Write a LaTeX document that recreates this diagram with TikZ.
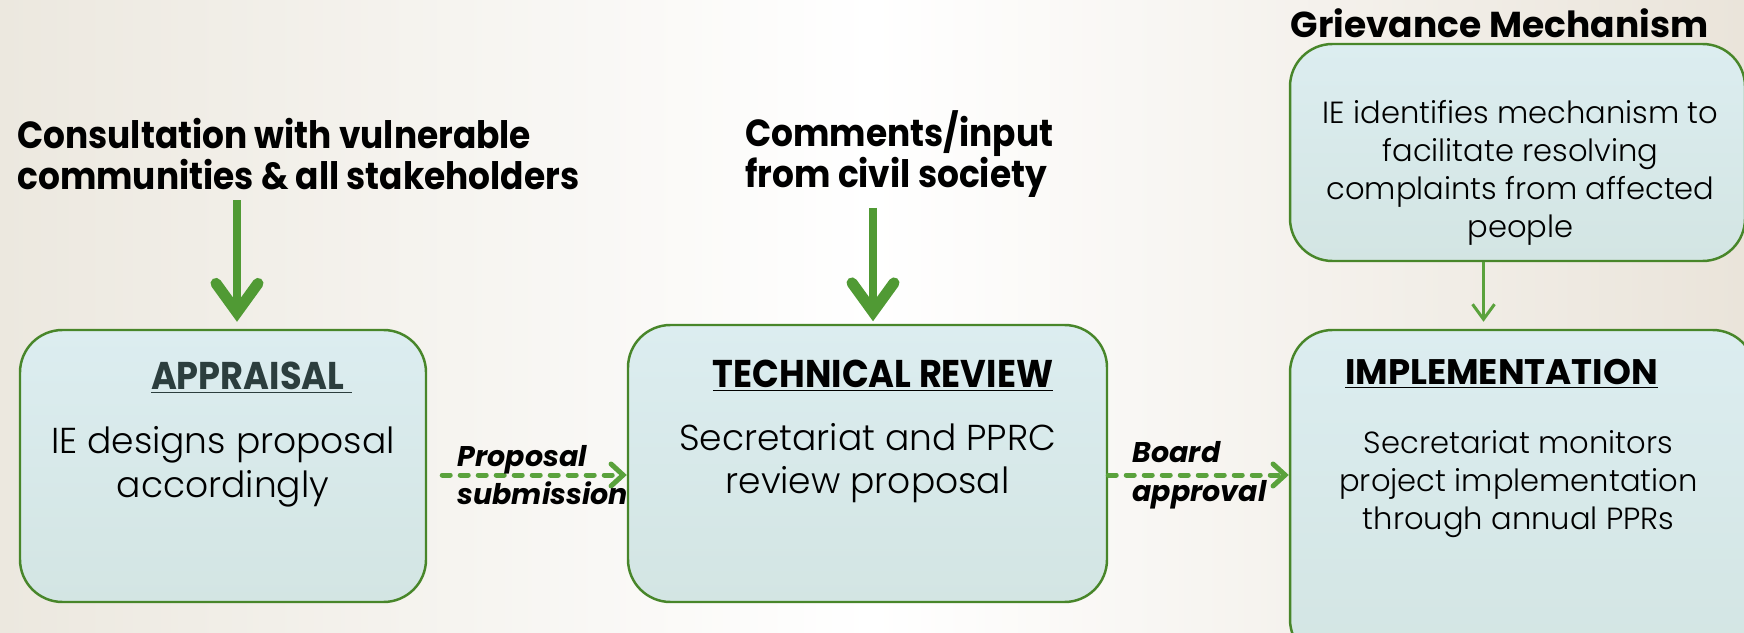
\documentclass[tikz,border=0pt]{standalone}
\usepackage{fontspec}
\setmainfont{Poppins}
\newfontfamily\narrowfont[FakeStretch=0.91]{Poppins}
\newfontfamily\lightfont{Poppins Light}
\usetikzlibrary{calc,positioning,shapes,arrows.meta}

\definecolor{boxline}{RGB}{72,134,42}
\definecolor{boxtop}{RGB}{220,237,240}
\definecolor{boxbot}{RGB}{211,229,227}
\definecolor{feedgreen}{RGB}{80,154,52}
\definecolor{flowgreen}{RGB}{90,162,60}
\definecolor{slate}{RGB}{44,62,62}
\definecolor{bgleft}{RGB}{236,232,223}
\definecolor{bgright}{RGB}{234,228,218}

\begin{document}
\begin{tikzpicture}
	\tikzstyle{phase}=[draw=boxline, line width=1.4pt, rounded corners=0.85cm, top color=boxtop, bottom color=boxbot, inner sep=0pt]
	\tikzstyle{phasetitle}=[inner sep=0pt, font={\narrowfont\bfseries\fontsize{22}{26}\selectfont}]
	\tikzstyle{phasetext}=[align=center, inner sep=0pt, font={\lightfont\fontsize{20.5}{24.5}\selectfont}]
	\tikzstyle{sidetext}=[align=center, inner sep=0pt, font={\lightfont\fontsize{17.4}{21.6}\selectfont}]
	\tikzstyle{inputtext}=[align=left, inner sep=0pt, font={\narrowfont\bfseries\fontsize{21.5}{23.5}\selectfont}]
	\tikzstyle{flowlabel}=[align=left, inner sep=0pt, font={\bfseries\itshape\fontsize{16.2}{22}\selectfont}]
	\tikzstyle{feed}=[-{Straight Barb[length=0.58cm, width=0.84cm, line width=0.22cm, line cap=round, line join=miter]}, draw=feedgreen, line width=0.15cm]
	\tikzstyle{flow}=[-{Straight Barb[length=0.24cm, width=0.44cm, line cap=round]}, draw=flowgreen, line width=0.1cm, line cap=round, dash pattern=on 0.16cm off 0.2cm]
	\tikzstyle{link}=[-{Straight Barb[length=0.3cm, width=0.44cm, line width=0.06cm]}, draw=flowgreen, line width=0.045cm]

	\useasboundingbox (0,0) rectangle (34.88,12.64);
	\clip (0,0) rectangle (34.88,12.64);
	\shade[left color=bgleft, right color=bgright, middle color=white] (0,0) rectangle (34.88,12.64);

	% stages
	\node (appr) [phase, minimum width=8.12cm, minimum height=5.44cm] at (4.46,3.32) {};
	\node (tech) [phase, minimum width=9.58cm, minimum height=5.54cm] at (17.35,3.37) {};
	\node (impl) [phase, minimum width=9.3cm, minimum height=6.64cm] at (30.45,2.72) {};
	\node (griev) [phase, minimum width=9.1cm, minimum height=4.34cm] at (30.35,9.59) {};

	\node (apprT) [phasetitle, text=slate, below=0.98cm of appr.north, anchor=center, xshift=0.57cm] {\underline{APPRAISAL\ }};
	\node (apprB) [phasetext, below=2.76cm of appr.north, anchor=center] {IE designs proposal\\accordingly};
	\node (techT) [phasetitle, below=1.04cm of tech.north, anchor=center, xshift=0.31cm] {\underline{TECHNICAL REVIEW}};
	\node (techB) [phasetext, below=2.78cm of tech.north, anchor=center] {Secretariat and PPRC\\review proposal};
	\node (implT) [phasetitle, font={\bfseries\fontsize{20.2}{24}\selectfont}, below=0.9cm of impl.north, anchor=center, xshift=-0.42cm] {\underline{IMPLEMENTATION}};
	\node (implB) [sidetext, below=3.1cm of impl.north, anchor=center, xshift=-0.08cm] {Secretariat monitors\\project implementation\\through annual PPRs};
	\node (grievB) [sidetext, below=2.6cm of griev.north, anchor=center, xshift=0.06cm] {IE identifies mechanism to\\facilitate resolving\\complaints from affected\\people};
	\node (grievT) [inputtext, font={\bfseries\fontsize{20.5}{22}\selectfont}, above=0.4cm of griev.north, anchor=center, xshift=-0.36cm] {Grievance Mechanism};

	% inputs
	\node (consult) [inputtext, anchor=west] at (0.34,9.56) {Consultation with vulnerable\\communities \& all stakeholders};
	\node (civil) [inputtext, anchor=west] at (14.9,9.56) {Comments/input\\from civil society};

	\coordinate (a1) at ([xshift=0.28cm]appr.north);
	\coordinate (a2) at ([xshift=0.11cm]tech.north);
	\coordinate (a3) at ([xshift=-0.68cm]griev.south);
	\coordinate (f1) at ([yshift=-0.18cm]appr.east);
	\coordinate (f2) at ([yshift=-0.23cm]tech.east);

	\draw[feed, shorten <=0.2cm, shorten >=0.14cm] (a1 |- consult.south) -- (a1);
	\draw[feed, shorten <=0.2cm, shorten >=0.05cm] (a2 |- civil.south) -- (a2);
	\draw[link, shorten >=0.14cm] (a3) -- (a3 |- impl.north);

	% transitions
	\draw[flow, shorten <=0.3cm] (f1) -- (f1 -| tech.west);
	\draw[flow] (f2) -- (f2 -| impl.west);
	\node (subm) [flowlabel, right=0.6cm of f1, anchor=west] {Proposal\\submission};
	\node (board) [flowlabel, right=0.48cm of f2, anchor=west] {Board\\approval};
\end{tikzpicture}
\end{document}
